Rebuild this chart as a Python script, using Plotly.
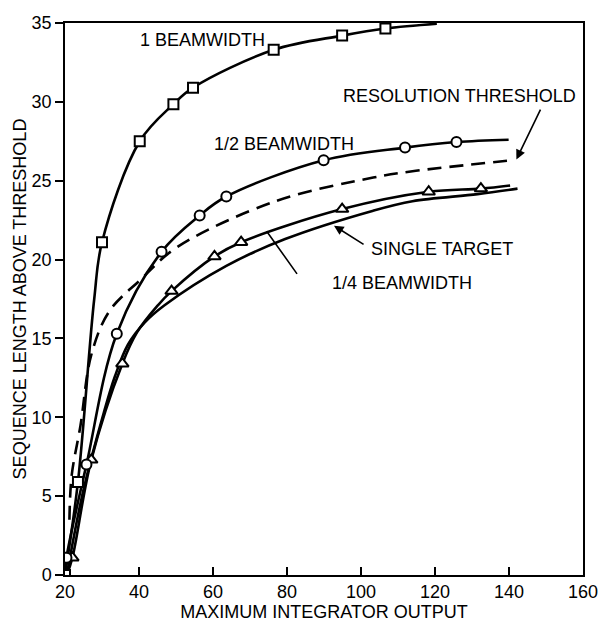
import plotly.graph_objects as go

# ---- data ----
sq_x = [20.0, 23.5, 30.0, 40.2, 49.3, 54.6, 76.4, 94.9, 106.6]
sq_y = [0.0, 5.9, 21.1, 27.5, 29.85, 30.9, 33.3, 34.2, 34.65]
sq_line_x = [20.0, 23.5, 27.9, 30.0, 40.2, 49.3, 54.6, 76.4, 94.9, 106.6, 120.5]
sq_line_y = [0.0, 5.9, 17.5, 21.1, 27.5, 29.85, 30.9, 33.3, 34.2, 34.65, 34.95]

ci_x = [20.4, 25.8, 34.0, 46.1, 56.4, 63.6, 89.9, 111.9, 125.8]
ci_y = [1.1, 7.0, 15.3, 20.5, 22.8, 24.0, 26.3, 27.1, 27.45]
ci_line_x = [20.0, 20.4, 25.8, 34.0, 46.1, 56.4, 63.6, 89.9, 111.9, 125.8, 139.9]
ci_line_y = [0.0, 1.1, 7.0, 15.3, 20.5, 22.8, 24.0, 26.3, 27.1, 27.45, 27.6]

tr_x = [22.0, 27.1, 35.5, 48.8, 60.4, 67.6, 94.9, 118.3, 132.4]
tr_y = [1.1, 7.3, 13.4, 18.0, 20.2, 21.1, 23.2, 24.3, 24.5]
tr_line_x = [20.5, 22.0, 27.1, 35.5, 39.5, 45.1, 48.8, 60.4, 67.6, 94.9, 118.3, 132.4, 140.3]
tr_line_y = [0.0, 1.1, 7.3, 13.4, 15.4, 17.1, 18.0, 20.2, 21.1, 23.2, 24.3, 24.5, 24.7]

st_x = [20.5, 24.8, 30.5, 33.5, 37.0, 41.5, 46.9, 63.6, 79.5, 103.3, 113.9, 131.5, 142.3]
st_y = [0.0, 5.2, 10.3, 12.6, 14.6, 16.0, 17.1, 19.6, 21.3, 23.1, 23.7, 24.15, 24.5]

rt_x = [21.2, 21.8, 24.2, 27.1, 31.9, 40.3, 50.4, 76.9, 103.3, 113.9, 141.1]
rt_y = [3.5, 6.3, 9.5, 13.95, 16.7, 18.7, 20.8, 23.7, 25.2, 25.6, 26.3]

x_ticks = [20, 40, 60, 80, 100, 120, 140, 160]
y_ticks = [0, 5, 10, 15, 20, 25, 30, 35]

FONT = "Liberation Sans"
LW = 2.6

fig = go.Figure()

def curve(x, y, dash="solid"):
    fig.add_trace(go.Scatter(x=x, y=y, mode="lines", line=dict(color="black", width=LW, shape="spline", smoothing=1.0, dash=dash),
                             hoverinfo="skip", showlegend=False))

def marks(x, y, symbol, size):
    fig.add_trace(go.Scatter(x=x, y=y, mode="markers",
                             marker=dict(symbol=symbol, size=size, color="white", line=dict(color="black", width=2)),
                             showlegend=False))

curve(st_x, st_y)
curve(rt_x, rt_y, dash="14px,8px")
curve(tr_line_x, tr_line_y)
curve(ci_line_x, ci_line_y)
curve(sq_line_x, sq_line_y)
marks(tr_x, tr_y, "triangle-up", 11)
marks(ci_x, ci_y, "circle", 10)
marks(sq_x, sq_y, "square", 10)

tfont = dict(family=FONT, size=18, color="black")
labels = [
    ("1 BEAMWIDTH", 57.2, 33.9),
    ("1/2 BEAMWIDTH", 79.2, 27.35),
    ("RESOLUTION THRESHOLD", 126.5, 30.35),
    ("SINGLE TARGET", 121.8, 20.7),
    ("1/4 BEAMWIDTH", 111.0, 18.5),
]
for t, x, y in labels:
    fig.add_annotation(x=x, y=y, text=t, showarrow=False, font=tfont, xanchor="center", yanchor="middle")

# pointers
fig.add_annotation(x=142.0, y=26.35, ax=148.7, ay=29.6, axref="x", ayref="y", text="",
                   showarrow=True, arrowhead=2, arrowsize=1.2, arrowwidth=1.6, arrowcolor="black")
fig.add_annotation(x=92.7, y=22.15, ax=101.1, ay=20.9, axref="x", ayref="y", text="",
                   showarrow=True, arrowhead=2, arrowsize=1.2, arrowwidth=1.6, arrowcolor="black")
fig.add_annotation(x=74.5, y=21.8, ax=83.0, ay=19.0, axref="x", ayref="y", text="",
                   showarrow=True, arrowhead=0, arrowwidth=1.6, arrowcolor="black")

fig.update_layout(
    width=610, height=629,
    margin=dict(l=65, r=16, t=23, b=51),
    paper_bgcolor="white", plot_bgcolor="white",
    font=dict(family=FONT, size=18, color="black"),
    showlegend=False,
)
fig.update_xaxes(range=[20, 160], tickvals=x_ticks, ticktext=[str(v) for v in x_ticks],
                 ticks="inside", ticklen=8, tickwidth=1.5, tickcolor="black",
                 showline=True, linecolor="black", linewidth=1.5, mirror=True,
                 showgrid=False, zeroline=False, tickfont=dict(family=FONT, size=18),
                 title=dict(text="MAXIMUM INTEGRATOR OUTPUT", font=tfont, standoff=2))
fig.update_yaxes(range=[0, 35], tickvals=y_ticks, ticktext=[str(v) for v in y_ticks],
                 ticks="outside", ticklen=8, tickwidth=1.5, tickcolor="black",
                 showline=True, linecolor="black", linewidth=1.5, mirror=True,
                 showgrid=False, zeroline=False, tickfont=dict(family=FONT, size=18),
                 title=dict(text="SEQUENCE LENGTH ABOVE THRESHOLD", font=tfont, standoff=0))

fig.write_html("out.html")
